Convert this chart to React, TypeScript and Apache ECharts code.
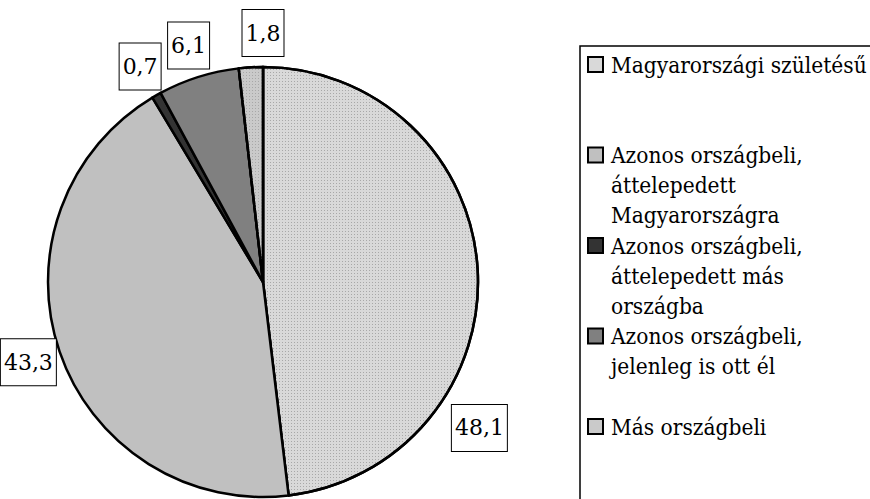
import React, { useEffect, useRef } from 'react';
import * as echarts from 'echarts';

// ---- data ----
const categories = [
  'Magyarországi születésű',
  'Azonos országbeli, áttelepedett Magyarországra',
  'Azonos országbeli, áttelepedett más országba',
  'Azonos országbeli, jelenleg is ott él',
  'Más országbeli',
];
const legendLines = [
  ['Magyarországi születésű'],
  ['Azonos országbeli,', 'áttelepedett', 'Magyarországra'],
  ['Azonos országbeli,', 'áttelepedett más', 'országba'],
  ['Azonos országbeli,', 'jelenleg is ott él'],
  ['Más országbeli'],
];
const values = [48.1, 43.3, 0.7, 6.1, 1.8];

// ---- styles / layout ----
const colors = ['#d9d9d9', '#c0c0c0', '#333333', '#808080', '#cacaca'];
const dotted = [true, false, false, false, true];
const CX = 263;
const CY = 282;
const R = 215;
const LABEL_R = 248;
const labelOverride: Record<number, { angle: number; r: number }> = {
  0: { angle: 124, r: 261 },
  4: { angle: 0, r: 249 },
};
const FONT = 'DejaVu Serif';
const FS = 22;

export default function App() {
  const ref = useRef<HTMLDivElement>(null);
  useEffect(() => {
    document.body.style.margin = '0';
    if (!ref.current) return;
    const chart = echarts.init(ref.current, null, { renderer: 'svg' });
    const total = values.reduce((a, b) => a + b, 0);
    const midAngles: number[] = [];
    let acc = 0;
    values.forEach((v) => {
      midAngles.push(((acc + v / 2) / total) * 360);
      acc += v;
    });

    const graphics: any[] = [
      {
        type: 'rect',
        shape: { x: 580, y: 46, width: 330, height: 480 },
        style: { fill: '#fff', stroke: '#000', lineWidth: 1.5 },
        z: 0,
      },
    ];
    legendLines.forEach((lines, i) => {
      const c = 65 + 90.5 * i;
      graphics.push({
        type: 'rect',
        shape: { x: 588, y: c - 8, width: 15, height: 15 },
        style: { fill: colors[i], stroke: '#000', lineWidth: 2 },
        z: 1,
      });
      graphics.push({
        type: 'text',
        x: 611,
        y: c - 15,
        scaleX: 0.92,
        style: {
          text: lines.join('\n'),
          fontFamily: FONT,
          fontSize: FS,
          lineHeight: 30,
          fill: '#000',
          verticalAlign: 'top',
          align: 'left',
        },
        z: 1,
      });
    });

    chart.setOption({
      animation: false,
      backgroundColor: '#fff',
      textStyle: { fontFamily: FONT },
      graphic: graphics,
      series: [
        {
          type: 'pie',
          center: [CX, CY],
          radius: R,
          startAngle: 90,
          clockwise: true,
          avoidLabelOverlap: false,
          data: values.map((v, i) => ({
            name: categories[i],
            value: v,
            itemStyle: {
              color: colors[i],
              decal: dotted[i]
                ? {
                    symbol: 'rect',
                    symbolSize: 1,
                    dashArrayX: [1, 2],
                    dashArrayY: [1, 2],
                    color: '#a8a8a8',
                  }
                : undefined,
            },
          })),
          itemStyle: { borderColor: '#000', borderWidth: 2.5 },
          label: {
            show: true,
            position: 'outside',
            formatter: (p: any) => String(p.value).replace('.', ','),
            fontFamily: FONT,
            fontSize: FS,
            lineHeight: 30,
            color: '#000',
            backgroundColor: '#fff',
            borderColor: '#000',
            borderWidth: 1,
            padding: [8, 3, 8, 3],
          },
          labelLine: { show: false },
          labelLayout: (params: any) => {
            const i = params.dataIndex;
            const o = labelOverride[i];
            const ang = o ? o.angle : midAngles[i];
            const rr = o ? o.r : LABEL_R;
            const rad = (ang * Math.PI) / 180;
            return {
              x: CX + rr * Math.sin(rad),
              y: CY - rr * Math.cos(rad),
              align: 'center',
              verticalAlign: 'middle',
            };
          },
          emphasis: { disabled: true },
        },
      ],
    });
    return () => chart.dispose();
  }, []);
  return <div ref={ref} style={{ width: 870, height: 499 }} />;
}
